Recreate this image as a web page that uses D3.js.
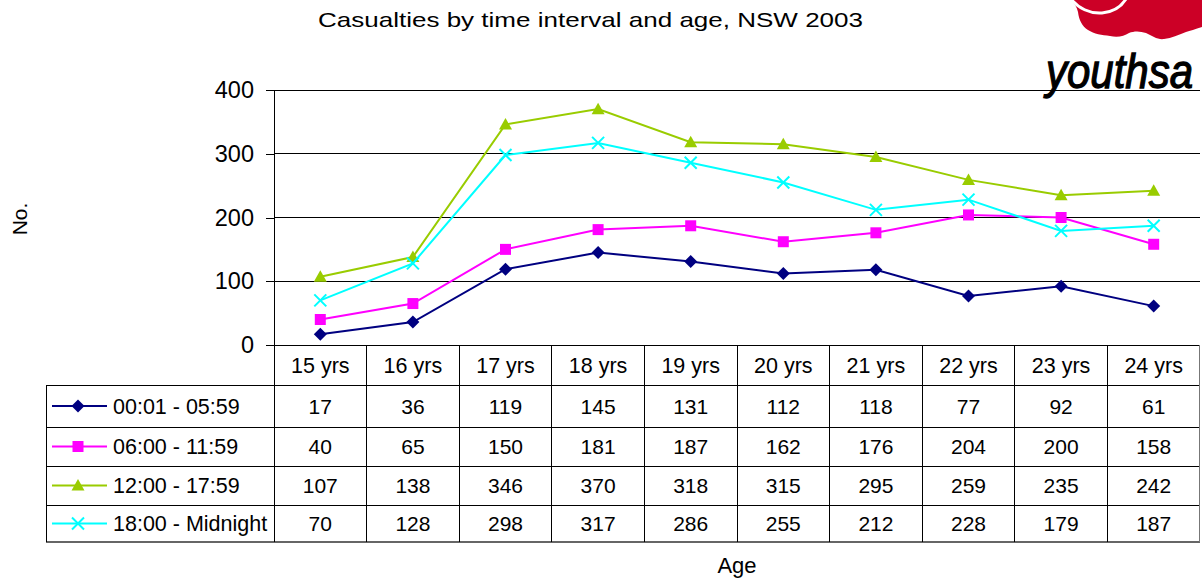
<!DOCTYPE html>
<html>
<head>
<meta charset="utf-8">
<script src="https://cdn.jsdelivr.net/npm/d3@7"></script>
<style>
  html, body { margin: 0; padding: 0; background: #fff; }
  svg { display: block; font-family: "Liberation Sans", Arial, sans-serif; }
</style>
</head>
<body>
<svg id="chart" width="1202" height="580"></svg>
<script>
// Age groups along the x axis
const categories = ["15 yrs", "16 yrs", "17 yrs", "18 yrs", "19 yrs", "20 yrs", "21 yrs", "22 yrs", "23 yrs", "24 yrs"];

// Casualties per time interval
const seriesNames = ["00:01 - 05:59", "06:00 - 11:59", "12:00 - 17:59", "18:00 - Midnight"];
const earlyMorning = [17, 36, 119, 145, 131, 112, 118, 77, 92, 61];
const morning      = [40, 65, 150, 181, 187, 162, 176, 204, 200, 158];
const afternoon    = [107, 138, 346, 370, 318, 315, 295, 259, 235, 242];
const evening      = [70, 128, 298, 317, 286, 255, 212, 228, 179, 187];

const yTicks = [0, 100, 200, 300, 400];

const seriesValues = [earlyMorning, morning, afternoon, evening];
const colors = ["#000080", "#ff00ff", "#99cc00", "#00ffff"];
const markers = ["diamond", "square", "triangle", "cross"];

const svg = d3.select("#chart");

const plot = { left: 274, right: 1200, top: 90, bottom: 345 };
const tableLeft = 46;
const tableRows = [385, 427, 466, 505, 542];

const x = d3.scaleBand().domain(categories).range([plot.left, plot.right]);
const y = d3.scaleLinear().domain([0, 400]).range([plot.bottom, plot.top]);

// Title
svg.append("text")
  .attr("x", 318).attr("y", 27)
  .attr("font-size", 21)
  .attr("textLength", 545).attr("lengthAdjust", "spacingAndGlyphs")
  .text("Casualties by time interval and age, NSW 2003");

// Logo in the top right corner
const logo = svg.append("g");
logo.append("path")
  .attr("fill", "#cc0026")
  .attr("d", "M1071,0 L1202,0 L1202,27 C1195,29 1190,31 1186,32 C1178,35 1172,38 1164,39 C1158,40 1152,36 1146,33 C1140,31 1134,31 1129,33 C1124,36 1118,38 1110,36 C1102,35 1094,34 1088,30 C1082,26 1079,20 1078,12 C1077,7 1074,3 1071,0 Z");
logo.append("path")
  .attr("fill", "none").attr("stroke", "#fff").attr("stroke-width", 3)
  .attr("d", "M1071,-1 C1078,8 1090,14 1102,13 C1113,12 1121,7 1126,-1");
logo.append("text")
  .attr("transform", "translate(1046,88) scale(1,1.15)")
  .attr("font-size", 42).attr("font-style", "italic")
  .attr("stroke", "#000").attr("stroke-width", 1.1)
  .text("youthsa");

// Gridlines
svg.append("g").selectAll("line")
  .data(yTicks.filter(d => d > 0))
  .join("line")
  .attr("x1", plot.left).attr("x2", plot.right)
  .attr("y1", d => y(d)).attr("y2", d => y(d))
  .attr("stroke", "#000").attr("stroke-width", 1).attr("shape-rendering", "crispEdges");

// Y axis
const yAxis = d3.axisLeft(y).tickValues(yTicks).tickSize(8).tickPadding(12);
const yg = svg.append("g").attr("transform", `translate(${plot.left},0)`).call(yAxis);
yg.select(".domain").attr("d", `M-8,${plot.top}H0V${plot.bottom}`).attr("stroke", "#000").attr("shape-rendering", "crispEdges");
yg.selectAll(".tick line").attr("stroke", "#000").attr("shape-rendering", "crispEdges");
yg.selectAll(".tick text").attr("font-size", 23.5).attr("font-family", "Liberation Sans, Arial, sans-serif").attr("fill", "#000");

// Axis titles
svg.append("text")
  .attr("transform", "translate(27,219) rotate(-90)")
  .attr("text-anchor", "middle").attr("font-size", 21)
  .text("No.");
svg.append("text")
  .attr("x", x("20 yrs")).attr("y", 573)
  .attr("text-anchor", "middle").attr("font-size", 22)
  .text("Age");

// Data table
const table = svg.append("g").attr("shape-rendering", "crispEdges");
// horizontal rules
table.append("line")
  .attr("x1", plot.left).attr("x2", plot.right)
  .attr("y1", plot.bottom).attr("y2", plot.bottom)
  .attr("stroke", "#000");
table.selectAll("line.row")
  .data(tableRows)
  .join("line")
  .attr("class", "row")
  .attr("x1", tableLeft).attr("x2", plot.right)
  .attr("y1", d => d).attr("y2", d => d)
  .attr("stroke", (d, i) => i === tableRows.length - 1 ? "#666" : "#000")
  .attr("stroke-width", (d, i) => i === tableRows.length - 1 ? 2 : 1);
// vertical rules
table.append("line")
  .attr("x1", tableLeft).attr("x2", tableLeft)
  .attr("y1", tableRows[0]).attr("y2", tableRows[tableRows.length - 1])
  .attr("stroke", "#000");
table.selectAll("line.col")
  .data(categories)
  .join("line")
  .attr("class", "col")
  .attr("x1", d => x(d)).attr("x2", d => x(d))
  .attr("y1", plot.bottom).attr("y2", tableRows[tableRows.length - 1])
  .attr("stroke", "#000");
table.append("line")
  .attr("x1", plot.right - 0.5).attr("x2", plot.right - 0.5)
  .attr("y1", plot.bottom).attr("y2", tableRows[tableRows.length - 1])
  .attr("stroke", "#777").attr("stroke-width", 1.5);

// Category labels (header row)
svg.append("g").selectAll("text")
  .data(categories)
  .join("text")
  .attr("x", d => x(d) + x.bandwidth() / 2)
  .attr("y", (plot.bottom + tableRows[0]) / 2 + 7.5)
  .attr("text-anchor", "middle").attr("font-size", 21.5)
  .text(d => d);

// Marker shapes
function markerPath(kind) {
  switch (kind) {
    case "diamond": return "M0,-6.5L6.5,0L0,6.5L-6.5,0Z";
    case "square": return "M-5.5,-5.5H5.5V5.5H-5.5Z";
    case "triangle": return "M0,-6.5L6.5,5L-6.5,5Z";
    default: return "M-6,-6L6,6M-6,6L6,-6";
  }
}
function drawMarker(sel, kind, color) {
  if (kind === "cross") {
    sel.attr("d", markerPath(kind)).attr("fill", "none").attr("stroke", color).attr("stroke-width", 2);
  } else {
    sel.attr("d", markerPath(kind)).attr("fill", color).attr("stroke", "none");
  }
}

// Rows: legend key, label and values
seriesNames.forEach((name, si) => {
  const top = tableRows[si], bottom = tableRows[si + 1];
  const mid = (top + bottom) / 2;
  const g = svg.append("g");
  g.append("line")
    .attr("x1", 52).attr("x2", 107).attr("y1", mid).attr("y2", mid)
    .attr("stroke", colors[si]).attr("stroke-width", 2);
  g.append("path")
    .attr("transform", `translate(78,${mid})`)
    .call(drawMarker, markers[si], colors[si]);
  g.append("text")
    .attr("x", 113).attr("y", mid + 7.5)
    .attr("font-size", 21.5)
    .text(name);
  g.selectAll("text.val")
    .data(seriesValues[si])
    .join("text")
    .attr("class", "val")
    .attr("x", (d, i) => x(categories[i]) + x.bandwidth() / 2)
    .attr("y", mid + 7.5)
    .attr("text-anchor", "middle").attr("font-size", 21)
    .text(d => d);
});

// Series lines and markers
const line = d3.line()
  .x((d, i) => x(categories[i]) + x.bandwidth() / 2)
  .y(d => y(d));

seriesValues.forEach((vals, si) => {
  const g = svg.append("g");
  g.append("path")
    .datum(vals)
    .attr("d", line)
    .attr("fill", "none")
    .attr("stroke", colors[si]).attr("stroke-width", 2);
  g.selectAll("path.mk")
    .data(vals)
    .join("path")
    .attr("class", "mk")
    .attr("transform", (d, i) => `translate(${x(categories[i]) + x.bandwidth() / 2},${y(d)})`)
    .call(drawMarker, markers[si], colors[si]);
});
</script>
</body>
</html>
